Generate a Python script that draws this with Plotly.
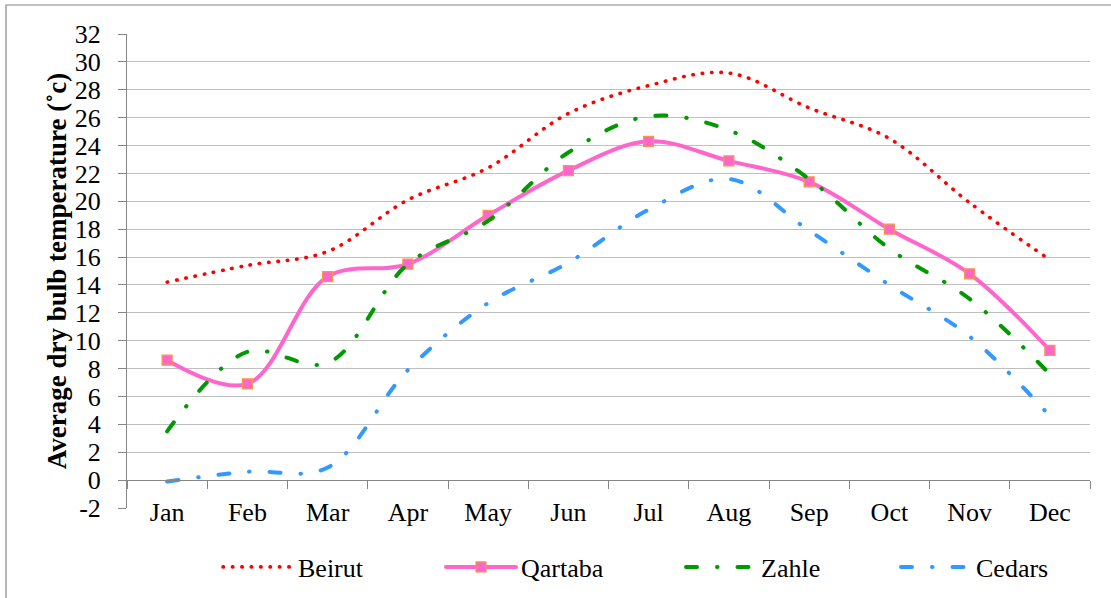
import plotly.graph_objects as go

months = ["Jan", "Feb", "Mar", "Apr", "May", "Jun", "Jul", "Aug", "Sep", "Oct", "Nov", "Dec"]
beirut = [14.2, 15.4, 16.4, 20.1, 22.4, 26.3, 28.3, 29.2, 26.7, 24.5, 19.9, 15.8]
qartaba = [8.6, 6.9, 14.6, 15.5, 19.0, 22.2, 24.3, 22.9, 21.4, 18.0, 14.8, 9.3]
zahle = [3.5, 9.2, 8.4, 15.5, 18.6, 23.5, 26.1, 25.1, 21.6, 16.6, 13.0, 7.6]
cedars = [-0.1, 0.6, 0.9, 7.9, 12.7, 15.6, 19.4, 21.6, 17.9, 14.0, 10.3, 4.6]
y_ticks = list(range(-2, 33, 2))

FONT = "Liberation Serif"
FS = 26

fig = go.Figure()
fig.add_trace(go.Scatter(
    x=months, y=beirut, name="Beirut", mode="lines", legend="legend4",
    line=dict(color="#FF0000", width=3.6, dash="0.5px,8.9px", shape="spline", smoothing=1.0)))
fig.add_trace(go.Scatter(
    x=months, y=qartaba, name="Qartaba", mode="lines+markers", legend="legend2",
    line=dict(color="#FF66CC", width=4, shape="spline", smoothing=1.0),
    marker=dict(symbol="square", size=10, color="#FF66CC", line=dict(color="#F79646", width=1.2))))
fig.add_trace(go.Scatter(
    x=months, y=zahle, name="Zahle", mode="lines", legend="legend3",
    line=dict(color="#009900", width=4, dash="11px,20px,0.5px,20px", shape="spline", smoothing=1.0)))
fig.add_trace(go.Scatter(
    x=months, y=cedars, name="Cedars", mode="lines", legend="legend",
    line=dict(color="#3399FF", width=4, dash="11px,20px,0.5px,20px", shape="spline", smoothing=1.0)))

PL, PR, PT, PB = 127, 1090, 34, 508
W, H = 1111, 598
pw, ph = PR - PL, PB - PT

def px_x(p):
    return (p - PL) / pw

def px_y(p):
    return (PB - p) / ph

def leg(xpx):
    return dict(orientation="h", yanchor="middle", y=px_y(567), xanchor="left",
                x=px_x(xpx),
                font=dict(family=FONT, size=FS, color="black"), itemwidth=70,
                bgcolor="rgba(0,0,0,0)")

fig.update_layout(
    width=W, height=H,
    margin=dict(l=PL, r=W - PR, t=PT, b=H - PB, autoexpand=False),
    paper_bgcolor="white", plot_bgcolor="white",
    font=dict(family=FONT, size=FS, color="black"),
    showlegend=True,
    legend4=leg(218),
    legend2=leg(441),
    legend3=leg(681),
    legend=leg(896),
    xaxis=dict(
        type="category", categoryorder="array", categoryarray=months,
        range=[-0.5, 11.5], tickson="boundaries", ticks="outside", ticklen=8,
        tickcolor="#868686", tickwidth=1,
        showline=True, linecolor="#868686", linewidth=1,
        showgrid=False, anchor="free", position=px_y(480),
        ticklabelstandoff=9,
        tickfont=dict(family=FONT, size=FS, color="black"),
    ),
    yaxis=dict(
        range=[-2, 32], tickvals=y_ticks, ticktext=[str(v) for v in y_ticks],
        showgrid=True, gridcolor="#BFBFBF", gridwidth=1.2,
        zeroline=False, showline=True, linecolor="#868686", linewidth=1,
        ticks="outside", ticklen=8, tickcolor="#868686",
        ticklabelstandoff=12,
        tickfont=dict(family=FONT, size=FS, color="black"),
        title=dict(text="<b>Average dry bulb temperature (˚c)</b>",
                   font=dict(family=FONT, size=27, color="black"), standoff=0),
    ),
    shapes=[dict(type="rect", xref="paper", yref="paper",
                 x0=px_x(6), x1=px_x(1120), y0=px_y(5), y1=px_y(610),
                 line=dict(color="#868686", width=1.2), fillcolor="rgba(0,0,0,0)",
                 layer="below")],
)

post = """
document.body.style.margin = '0px';
document.body.style.overflow = 'hidden';
document.querySelectorAll('.scatterlayer .js-line, .legendlines path').forEach(function(p){
  p.style.strokeLinecap = 'round';
});
"""
fig.write_html("out.html", post_script=post, config={"displayModeBar": False})
